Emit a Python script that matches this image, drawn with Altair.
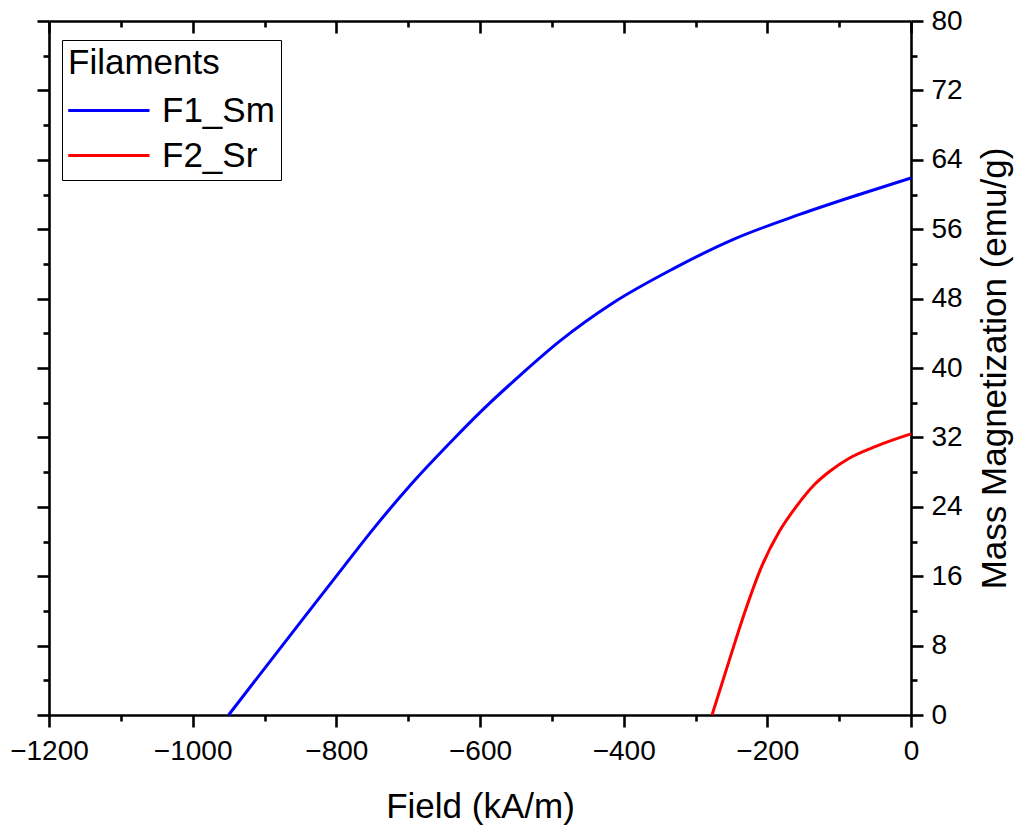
import altair as alt
import pandas as pd

# ---- data ----
f1_field = [-950, -851, -800, -749, -698, -638, -601, -545, -489, -415, -332, -248, -155, -72, 0]
f1_mag = [0.0, 10.6, 16.0, 21.4, 26.4, 31.7, 34.8, 39.1, 43.1, 47.5, 51.4, 54.8, 57.7, 60.0, 61.9]

f2_field = [-277, -253, -232, -208, -183, -160, -134, -113, -86, -48, 0]
f2_mag = [0.0, 6.3, 11.7, 17.1, 21.2, 24.0, 26.6, 28.1, 29.6, 31.0, 32.4]

series_names = ["F1_Sm", "F2_Sr"]
series_colors = ["#0000FF", "#FF0000"]

x_major = [-1200, -1000, -800, -600, -400, -200, 0]
x_minor = [-1100, -900, -700, -500, -300, -100]
y_major = [0, 8, 16, 24, 32, 40, 48, 56, 64, 72, 80]
y_minor = [4, 12, 20, 28, 36, 44, 52, 60, 68, 76]

df = pd.concat([
    pd.DataFrame({"field": f1_field, "mag": f1_mag, "series": series_names[0]}),
    pd.DataFrame({"field": f2_field, "mag": f2_mag, "series": series_names[1]}),
], ignore_index=True)

W, H = 862, 694
FONT = "Liberation Sans"
LW = 2.6

xs = alt.Scale(domain=[-1200, 0], nice=False, zero=False)
ys = alt.Scale(domain=[0, 80], nice=False, zero=False)


def base_axis(**kw):
    d = dict(grid=False, tickColor="black", domainColor="black", tickWidth=LW,
             domainWidth=LW, labelFont=FONT, labelColor="black", labelFontSize=28,
             titleFont=FONT, titleColor="black", titleFontSize=35,
             titleFontWeight="normal", labelFlush=False, labelOverlap=False)
    d.update(kw)
    return alt.Axis(**d)


main = alt.Chart(df).mark_line(strokeWidth=3, interpolate="monotone").encode(
    x=alt.X("field:Q", scale=xs, axis=base_axis(
        orient="bottom", values=x_major, tickSize=12, labelPadding=10, format="d",
        labelExpr="replace(datum.label, '-', '\u2212')",
        title="Field (kA/m)", titlePadding=24)),
    y=alt.Y("mag:Q", scale=ys, axis=base_axis(
        orient="right", values=y_major, tickSize=12, labelPadding=8, format="d",
        title="Mass Magnetization (emu/g)", titleAngle=270, titleBaseline="top",
        titlePadding=15)),
    color=alt.Color("series:N", scale=alt.Scale(domain=series_names, range=series_colors),
                    legend=alt.Legend(
                        title="Filaments", orient="none", legendX=13, legendY=19,
                        titleFont=FONT, titleFontSize=35, titleFontWeight="normal",
                        titleColor="black", labelFont=FONT, labelFontSize=35,
                        labelColor="black", symbolType="M-1.05,0H2.2",
                        symbolStrokeWidth=3, symbolSize=2500, strokeColor="black",
                        padding=6, labelOffset=41, rowPadding=0,
                        titlePadding=3)),
    detail="series:N",
)


def axis_layer(xaxis, yaxis):
    return alt.Chart(df).mark_line(opacity=0).encode(
        x=alt.X("field:Q", scale=xs, axis=xaxis),
        y=alt.Y("mag:Q", scale=ys, axis=yaxis),
        detail="series:N",
    )


minor_br = axis_layer(
    base_axis(orient="bottom", values=x_minor, tickSize=6, labels=False, domain=False, title=None),
    base_axis(orient="right", values=y_minor, tickSize=6, labels=False, domain=False, title=None),
)
major_tl = axis_layer(
    base_axis(orient="bottom", offset=-H, values=x_major, tickSize=12, labels=False, title=None),
    base_axis(orient="left", values=y_major, tickSize=12, labels=False, title=None),
)
minor_tl = axis_layer(
    base_axis(orient="bottom", offset=-H, values=x_minor, tickSize=6, labels=False, domain=False, title=None),
    base_axis(orient="left", values=y_minor, tickSize=6, labels=False, domain=False, title=None),
)

chart = alt.layer(main, minor_br, major_tl, minor_tl).resolve_axis(
    x="independent", y="independent"
).properties(
    width=W, height=H,
    autosize=alt.AutoSizeParams(type="none"),
    padding={"left": 49, "top": 21, "right": 114, "bottom": 118},
).configure_view(stroke=None).configure_legend(strokeWidth=2).configure(background="white")

chart.save("out.html", embed_options={"renderer": "svg", "actions": False})
